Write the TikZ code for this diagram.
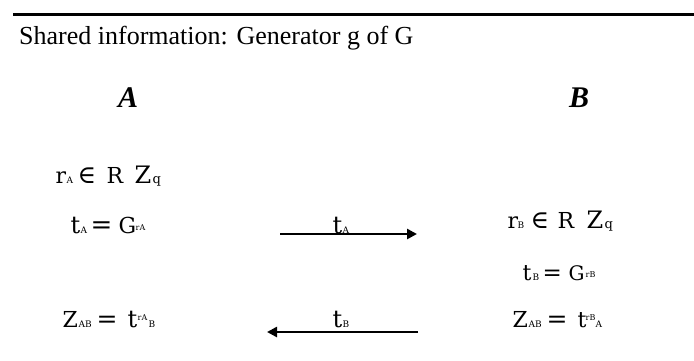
\documentclass[tikz,border=0pt]{standalone}
\usepackage{fontspec}
\setmainfont{Liberation Serif}
\newfontfamily\eqfont{DejaVu Serif}
\usetikzlibrary{arrows.meta}
% piece at horizontal offset #1 (pt), size #2, raised by #3, content #4
\newcommand{\pc}[4]{\rlap{\hspace*{#1pt}\raisebox{#3pt}{\fontsize{#2}{#2}\selectfont #4}}}
\begin{document}
\begin{tikzpicture}[x=1pt,y=-1pt,
  eq/.style={anchor=base west,inner sep=0pt,font=\eqfont},
  party/.style={anchor=base west,inner sep=0pt,font=\fontsize{30}{32}\selectfont\bfseries\itshape},
  msg/.style={line width=2.5pt,-{Triangle[length=10pt,width=10pt]}}]
\useasboundingbox (0,0) rectangle (694,360);
\coordinate (tl) at (13,14);
\coordinate (tr) at (694,14);
\draw[line width=3pt] (tl) -- (tr);
\node[anchor=base west,inner sep=0pt,font=\fontsize{26}{28}\selectfont] (shared) at (19,44) {Shared information: Generator g of G};
\node[party] (A) at (118,107) {A};
\node[party] (B) at (569,107) {B};
% left column
\node[eq] (rA) at (55,183) {\pc{0}{22}{0}{r}\pc{11}{9}{0}{A}\pc{22}{25}{0}{∈}\pc{51}{22}{0}{R}\pc{79}{24}{0}{Z}\pc{97}{13}{0}{q}};
\node[eq] (tA) at (70,233) {\pc{0}{24}{0}{t}\pc{10}{9}{0}{A}\pc{20}{26}{0}{=}\pc{48}{22}{0}{G}\pc{65}{8}{3}{rA}};
\node[eq] (zA) at (62,327) {\pc{0}{22}{0}{Z}\pc{16}{9}{0}{AB}\pc{34}{25}{0}{=}\pc{65}{24}{0}{t}\pc{75}{8}{7}{rA}\pc{86}{9}{0}{B}};
% right column
\node[eq] (rB) at (507,228) {\pc{0}{22}{0}{r}\pc{10}{9}{0}{B}\pc{23}{25}{0}{∈}\pc{50}{22}{0}{R}\pc{79}{24}{0}{Z}\pc{97}{13}{0}{q}};
\node[eq] (tB) at (522,280) {\pc{0}{22}{0}{t}\pc{10}{9}{0}{B}\pc{20}{23}{0}{=}\pc{46}{20}{0}{G}\pc{63}{8}{3}{rB}};
\node[eq] (zB) at (512,327) {\pc{0}{22}{0}{Z}\pc{16}{9}{0}{AB}\pc{34}{25}{0}{=}\pc{65}{22}{0}{t}\pc{73}{8}{7}{rB}\pc{83}{9}{0}{A}};
% messages
\coordinate (m1s) at (280,234);
\coordinate (m1e) at (417,234);
\draw[msg] (m1s) -- (m1e);
\node[eq] (lA) at (332,233) {\pc{0}{24}{0}{t}\pc{10}{9}{0}{A}};
\coordinate (m2s) at (418,332);
\coordinate (m2e) at (267,332);
\draw[msg] (m2s) -- (m2e);
\node[eq] (lB) at (332,327) {\pc{0}{24}{0}{t}\pc{10}{9}{0}{B}};
\end{tikzpicture}
\end{document}
